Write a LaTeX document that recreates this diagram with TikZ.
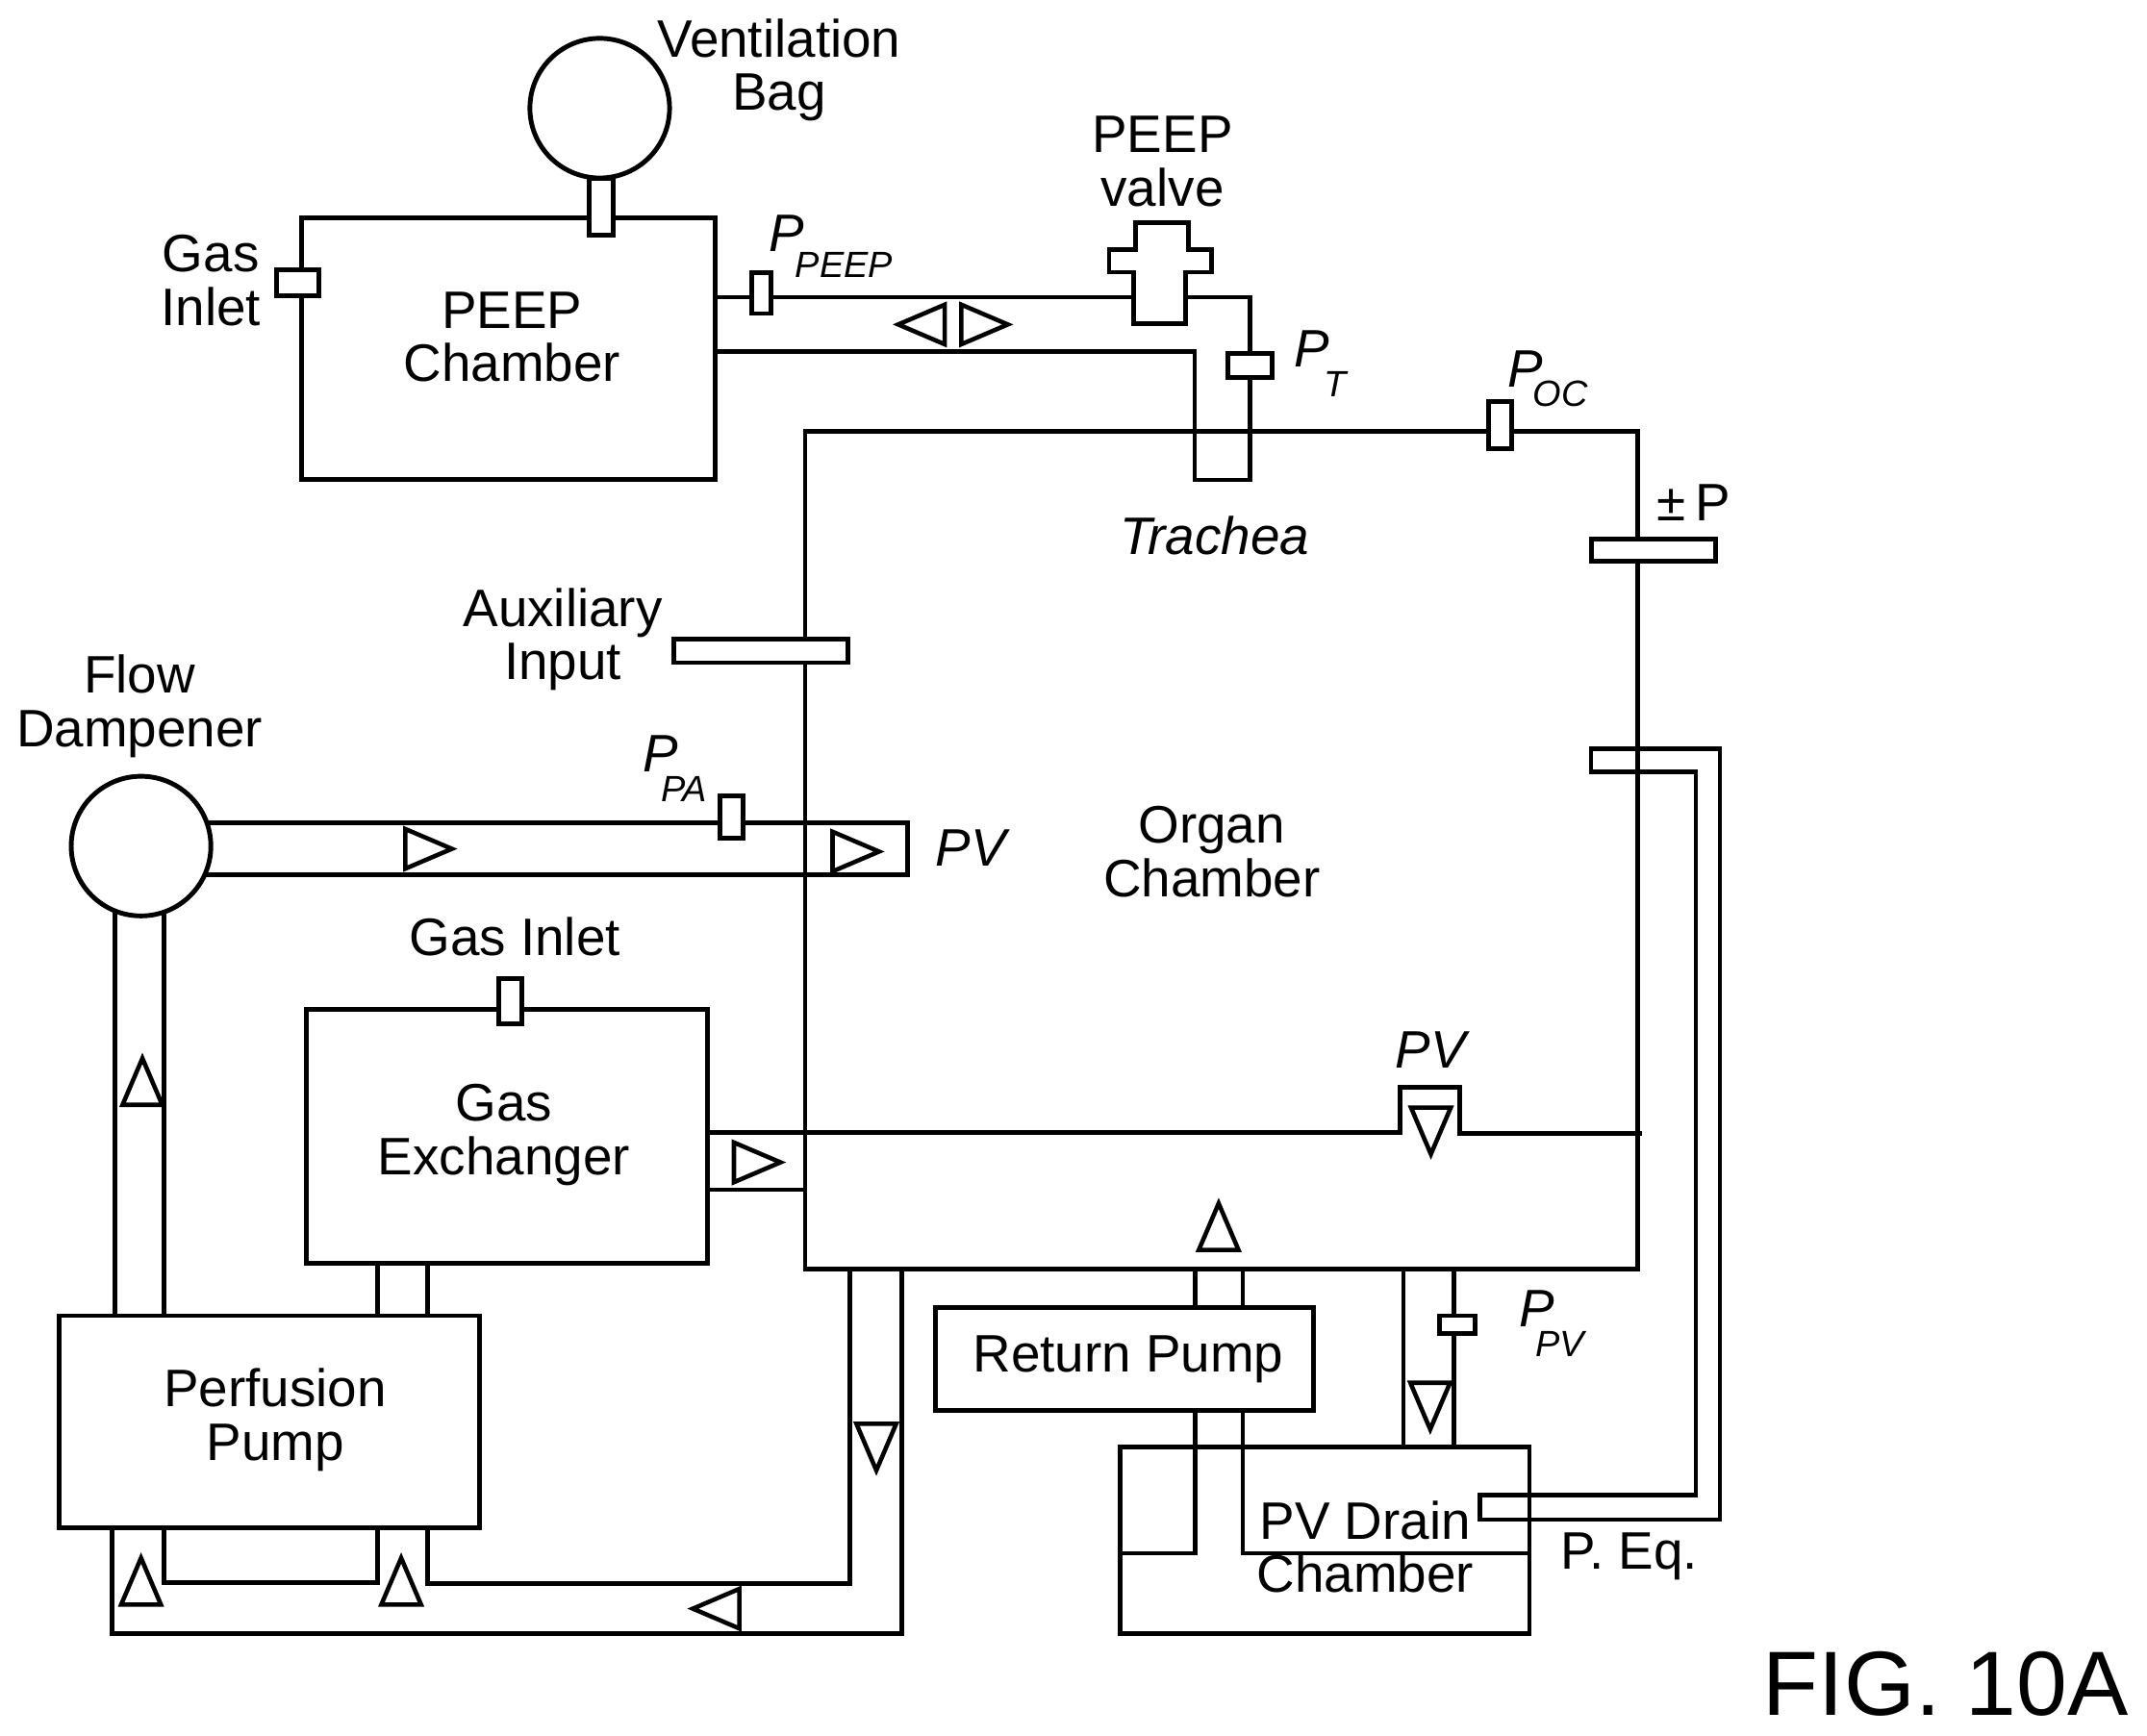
\documentclass[tikz,border=0pt]{standalone}
\usepackage{fontspec}
\setmainfont{Liberation Sans}
\def\ux{0.014235cm}
\newcommand{\psub}[3]{\textit{P\kern#1\raisebox{#2}{\fontsize{10.8}{11}\selectfont #3}}}
\tikzset{
  pipe/.style={line width=1.35pt,line join=miter},
  box/.style 2 args={draw,line width=1.4pt,fill=white,inner sep=0pt,outer sep=0pt,
    minimum width=#1*\ux,minimum height=#2*\ux},
  openbox/.style 2 args={box={#1}{#2},fill=none},
  ball/.style={draw,circle,line width=1.4pt,fill=white,inner sep=0pt,outer sep=0pt,minimum size=102*\ux},
  lbl/.style={font=\fontsize{15.6}{15.8}\selectfont,align=center,inner sep=0pt},
  itlbl/.style={lbl,font=\fontsize{15.6}{15.8}\selectfont\itshape},
  plbl/.style={lbl,anchor=base west},
  flowtri/.style={line width=1.3pt,line join=miter}
}
\begin{document}
\begin{tikzpicture}[x=\ux,y=-\ux]
            \useasboundingbox (0,0) rectangle (1568,1268);

            % chambers under the pipes
            \node (organ) [openbox={608}{612}] at (892,621) {};
            \node (drain) [openbox={299}{136}] at (967.5,1125) {};

            % air side
            \node (peep) [box={302}{191}] at (371,254.5) {};
            \coordinate (valvein) at (828,217);
            \coordinate (valveout) at (866,217);
            \coordinate (tracheal) at (872.5,350.5);
            \coordinate (tracheab) at (913,350.5);
            \draw[pipe] (peep.east |- valvein) -- (valvein);
            \draw[pipe] (valveout) -- (valveout -| tracheab) -- (tracheab) -- (tracheal) -- (872.5,257) -- (peep.east |- 0,257);
            \draw[pipe,line width=1.4pt,fill=white] (829,162.3) -- (868,162.3) -- (868,182.6) -- (885,182.6) -- (885,198.8) -- (866,198.8)
                -- (866,236.7) -- (828,236.7) -- (828,198.8) -- (810,198.8) -- (810,182.6) -- (829,182.6) -- cycle;

            % perfusate side, flow dampener loop
            \draw[pipe] (120,601) -- (663,601) -- (663,639) -- (120,639);
            \draw[pipe] (84,618) -- (84,970);
            \draw[pipe] (119.6,618) -- (119.6,970);
            \draw[pipe] (275.7,920) -- (275.7,970);
            \draw[pipe] (312.4,920) -- (312.4,970);

            % pump to pump and back to the chamber
            \draw[pipe] (120,1110) -- (120,1155.7) -- (275.7,1155.7) -- (275.7,1110);
            \draw[pipe] (312.4,1110) -- (312.4,1156.7) -- (620.6,1156.7) -- (620.6,927);
            \draw[pipe] (82,1110) -- (82,1193) -- (658.6,1193) -- (658.6,927);

            % gas exchanger to pv valve
            \draw[pipe] (517,827) -- (1022.5,827) -- (1022.5,794) -- (1066,794) -- (1066,828) -- (1199,828);
            \draw[pipe] (517,869) -- (588,869);

            % drain and return
            \draw[pipe] (1025,927) -- (1025,1057);
            \draw[pipe] (1062,927) -- (1062,1057);
            \draw[pipe] (873,927) -- (873,1134.6) -- (drain.west |- 0,1134.6);
            \draw[pipe] (907.7,927) -- (907.7,1134.6) -- (drain.east |- 0,1134.6);
            \draw[pipe] (1162,547) -- (1162,564) -- (1238.5,564) -- (1238.5,1092) -- (1081,1092) -- (1081,1110) -- (1256,1110) -- (1256,547) -- cycle;

            % boxes and sensors on top of the pipes
            \node (bag) [ball] at (438,79) {};
            \node (neck) [box={18}{42}] at (439,151) {};
            \node (gasport) [box={31}{19}] at (217.5,206.5) {};
            \node (peepsensor) [box={14}{30}] at (556,214) {};
            \node (tsensor) [box={32}{18}] at (913,267) {};
            \node (ocsensor) [box={17}{35}] at (1095.5,310.5) {};
            \node (pmsensor) [box={91}{16}] at (1207.5,402) {};
            \node (auxsensor) [box={127}{17}] at (555.5,475.5) {};
            \node (flowdamp) [ball] at (103,618) {};
            \node (pasensor) [box={17}{31}] at (534.5,596.5) {};
            \node (gasexch) [box={293}{186}] at (370.5,830) {};
            \node (gassensor) [box={17}{33}] at (372.5,731.5) {};
            \node (perfpump) [box={307}{155}] at (196.5,1038.5) {};
            \node (retpump) [box={276}{75}] at (821,992.5) {};
            \node (pvsensor) [box={26}{13}] at (1064,967.5) {};

            % flow triangles, tip along the angle
            \foreach \x/\y/\a in {673/237/180,719/237/0,313/620/0,625/622/0,553/849/0,
                                  104/790/90,890/896/90,103/1155/90,293/1155/90,
                                  1045/826/270,1044.5/1027/270,640/1057/270,523/1175/180} {
                \draw[flowtri,shift={(\x,\y)},rotate=\a] (-17,-14.5) -- (17,0) -- (-17,14.5) -- cycle;
            }

            % labels
            \node (lblbag) [lbl] at (569,51) {Ventilation\\Bag};
            \node (lblvalve) [lbl] at (849,118) {PEEP\\valve};
            \node (lblgas) [lbl] at (154,205) {Gas\\Inlet};
            \node (lblpeep) [lbl] at (374,246) {PEEP\\Chamber};
            \node (lblaux) [lbl] at (411,467) {Auxiliary\\Input};
            \node (lblflow) [lbl] at (102,516) {Flow\\Dampener};
            \node (lblorgan) [lbl] at (885,622) {Organ\\Chamber};
            \node (lblgasin) [lbl] at (376,684) {Gas Inlet};
            \node (lblexch) [lbl] at (368,829) {Gas\\Exchanger};
            \node (lblperf) [lbl] at (201,1037) {Perfusion\\Pump};
            \node (lblret) [lbl] at (824,993) {Return Pump};
            \node (lbldrain) [lbl] at (997,1130) {PV Drain\\Chamber};
            \node (lbleq) [lbl] at (1190,1137) {P. Eq.};
            \node (lbltrachea) [itlbl] at (887,391) {Trachea};
            \node (lblpm) [lbl] at (1237,367) {±\kern3pt P};
            \node (lblpv) [itlbl] at (709,619) {PV};
            \node (lblpvv) [itlbl] at (1045,767) {PV};
            \node (lblppeep) [plbl] at (561,184) {\psub{-2.6pt}{-7.6pt}{PEEP}};
            \node (lblpt) [plbl] at (945,268) {\psub{-1.6pt}{-8.8pt}{T}};
            \node (lblpoc) [plbl] at (1101,283) {\psub{-3pt}{-5.6pt}{OC}};
            \node (lblppa) [plbl] at (469,564) {\psub{-5pt}{-8.8pt}{PA}};
            \node (lblppv) [plbl] at (1109,969) {\psub{-5.6pt}{-8.8pt}{PV}};
            \node (lblfig) [lbl,font=\fontsize{27}{28}\selectfont] at (1421,1230) {FIG. 10A};
\end{tikzpicture}
\end{document}
